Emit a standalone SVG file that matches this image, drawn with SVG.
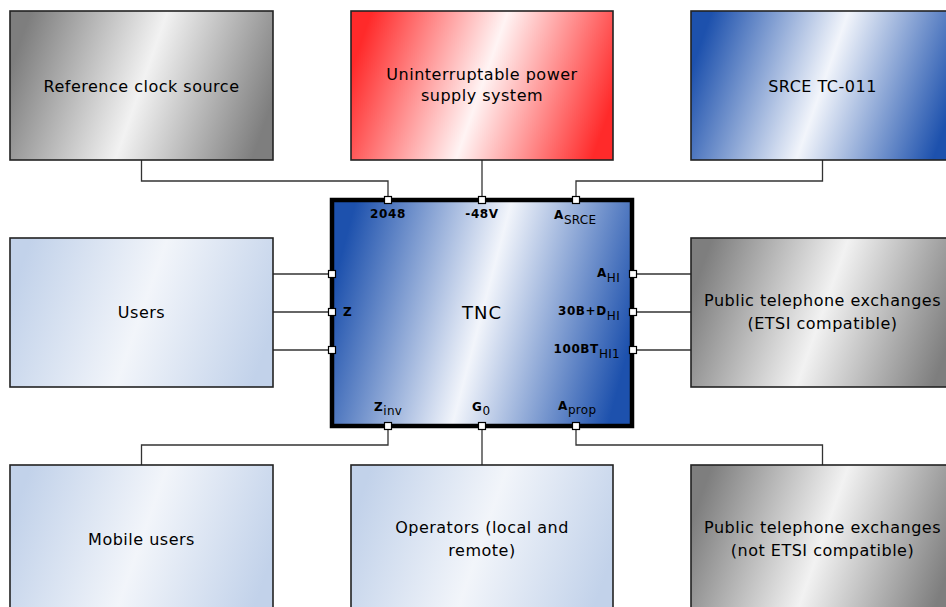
<svg xmlns="http://www.w3.org/2000/svg" width="946" height="607" viewBox="0 0 946 607">
<defs>
<linearGradient id="gGrey" x1="0" y1="0.4" x2="1" y2="0.6">
<stop offset="0" stop-color="#7e7e7e"/><stop offset="0.5" stop-color="#f2f2f2"/><stop offset="1" stop-color="#7e7e7e"/>
</linearGradient>
<linearGradient id="gRed" x1="0" y1="0.4" x2="1" y2="0.6">
<stop offset="0" stop-color="#ff2a2a"/><stop offset="0.5" stop-color="#fff4f4"/><stop offset="1" stop-color="#ff2a2a"/>
</linearGradient>
<linearGradient id="gBlue" x1="0" y1="0.4" x2="1" y2="0.6">
<stop offset="0" stop-color="#1d51ad"/><stop offset="0.5" stop-color="#f2f5fb"/><stop offset="1" stop-color="#1d51ad"/>
</linearGradient>
<linearGradient id="gLight" x1="0" y1="0.4" x2="1" y2="0.6">
<stop offset="0" stop-color="#c2d2ea"/><stop offset="0.5" stop-color="#f2f5fa"/><stop offset="1" stop-color="#c2d2ea"/>
</linearGradient>
</defs>
<style>
.box{stroke:#222;stroke-width:1.6}
.lbl{font-family:"DejaVu Sans",sans-serif;font-size:16px;fill:#000;text-anchor:middle;letter-spacing:0.5px}
.conn{fill:none;stroke:#333;stroke-width:1.3}
.port{fill:#fff;stroke:#000;stroke-width:1.2}
.pl{font-family:"DejaVu Sans",sans-serif;font-size:12px;font-weight:bold;fill:#000;letter-spacing:0.6px}
.sub{font-weight:normal;font-size:12px;letter-spacing:0.3px}
.tnc{stroke:#000;stroke-width:4.5}
</style>

<g id="connectors">
<path class="conn" d="M141.5,160 V181 H388 V200"/>
<path class="conn" d="M482,160 V200"/>
<path class="conn" d="M822.5,160 V181 H576 V200"/>
<path class="conn" d="M273,274 H332"/>
<path class="conn" d="M273,312 H332"/>
<path class="conn" d="M273,350 H332"/>
<path class="conn" d="M633,274 H691"/>
<path class="conn" d="M633,312 H691"/>
<path class="conn" d="M633,350 H691"/>
<path class="conn" d="M388,426 V445 H141.5 V465"/>
<path class="conn" d="M482,426 V465"/>
<path class="conn" d="M576,426 V445 H822.5 V465"/>
</g>

<g id="ref-clock">
<rect class="box" x="10" y="11" width="263" height="149" fill="url(#gGrey)"/>
<text class="lbl" x="141.5" y="92">Reference clock source</text>
</g>
<g id="ups">
<rect class="box" x="351" y="11" width="262" height="149" fill="url(#gRed)"/>
<text class="lbl" x="482" y="80">Uninterruptable power</text>
<text class="lbl" x="482" y="101">supply system</text>
</g>
<g id="srce">
<rect class="box" x="691" y="11" width="263" height="149" fill="url(#gBlue)"/>
<text class="lbl" x="822.5" y="92">SRCE TC-011</text>
</g>
<g id="users">
<rect class="box" x="10" y="238" width="263" height="149" fill="url(#gLight)"/>
<text class="lbl" x="141.5" y="318">Users</text>
</g>
<g id="pte-etsi">
<rect class="box" x="691" y="238" width="263" height="149" fill="url(#gGrey)"/>
<text class="lbl" x="822.5" y="306">Public telephone exchanges</text>
<text class="lbl" x="822.5" y="329">(ETSI compatible)</text>
</g>
<g id="mobile-users">
<rect class="box" x="10" y="465" width="263" height="149" fill="url(#gLight)"/>
<text class="lbl" x="141.5" y="545">Mobile users</text>
</g>
<g id="operators">
<rect class="box" x="351" y="465" width="262" height="149" fill="url(#gLight)"/>
<text class="lbl" x="482" y="533">Operators (local and</text>
<text class="lbl" x="482" y="556">remote)</text>
</g>
<g id="pte-non-etsi">
<rect class="box" x="691" y="465" width="263" height="149" fill="url(#gGrey)"/>
<text class="lbl" x="822.5" y="533">Public telephone exchanges</text>
<text class="lbl" x="822.5" y="556">(not ETSI compatible)</text>
</g>

<g id="tnc">
<rect class="tnc" x="332" y="200" width="300" height="226" fill="url(#gBlue)"/>
<text class="lbl" x="482" y="319" style="font-size:18px;letter-spacing:1px">TNC</text>
<text class="pl" x="388" y="218" text-anchor="middle">2048</text>
<text class="pl" x="482" y="218" text-anchor="middle">-48V</text>
<text class="pl" x="554" y="219">A<tspan class="sub" dy="5">SRCE</tspan></text>
<text class="pl" x="620" y="277" text-anchor="end">A<tspan class="sub" dy="5">HI</tspan></text>
<text class="pl" x="620" y="315" text-anchor="end">30B+D<tspan class="sub" dy="5">HI</tspan></text>
<text class="pl" x="620" y="353" text-anchor="end">100BT<tspan class="sub" dy="5">HI1</tspan></text>
<text class="pl" x="343" y="316">Z</text>
<text class="pl" x="374" y="411">Z<tspan class="sub" dy="4">inv</tspan></text>
<text class="pl" x="472" y="411">G<tspan class="sub" dy="4">0</tspan></text>
<text class="pl" x="558" y="410">A<tspan class="sub" dy="4">prop</tspan></text>
<rect class="port" x="384.5" y="196.5" width="7" height="7"/>
<rect class="port" x="478.5" y="196.5" width="7" height="7"/>
<rect class="port" x="572.5" y="196.5" width="7" height="7"/>
<rect class="port" x="328.5" y="270.5" width="7" height="7"/>
<rect class="port" x="328.5" y="308.5" width="7" height="7"/>
<rect class="port" x="328.5" y="346.5" width="7" height="7"/>
<rect class="port" x="629.5" y="270.5" width="7" height="7"/>
<rect class="port" x="629.5" y="308.5" width="7" height="7"/>
<rect class="port" x="629.5" y="346.5" width="7" height="7"/>
<rect class="port" x="384.5" y="422.5" width="7" height="7"/>
<rect class="port" x="478.5" y="422.5" width="7" height="7"/>
<rect class="port" x="572.5" y="422.5" width="7" height="7"/>
</g>
</svg>
